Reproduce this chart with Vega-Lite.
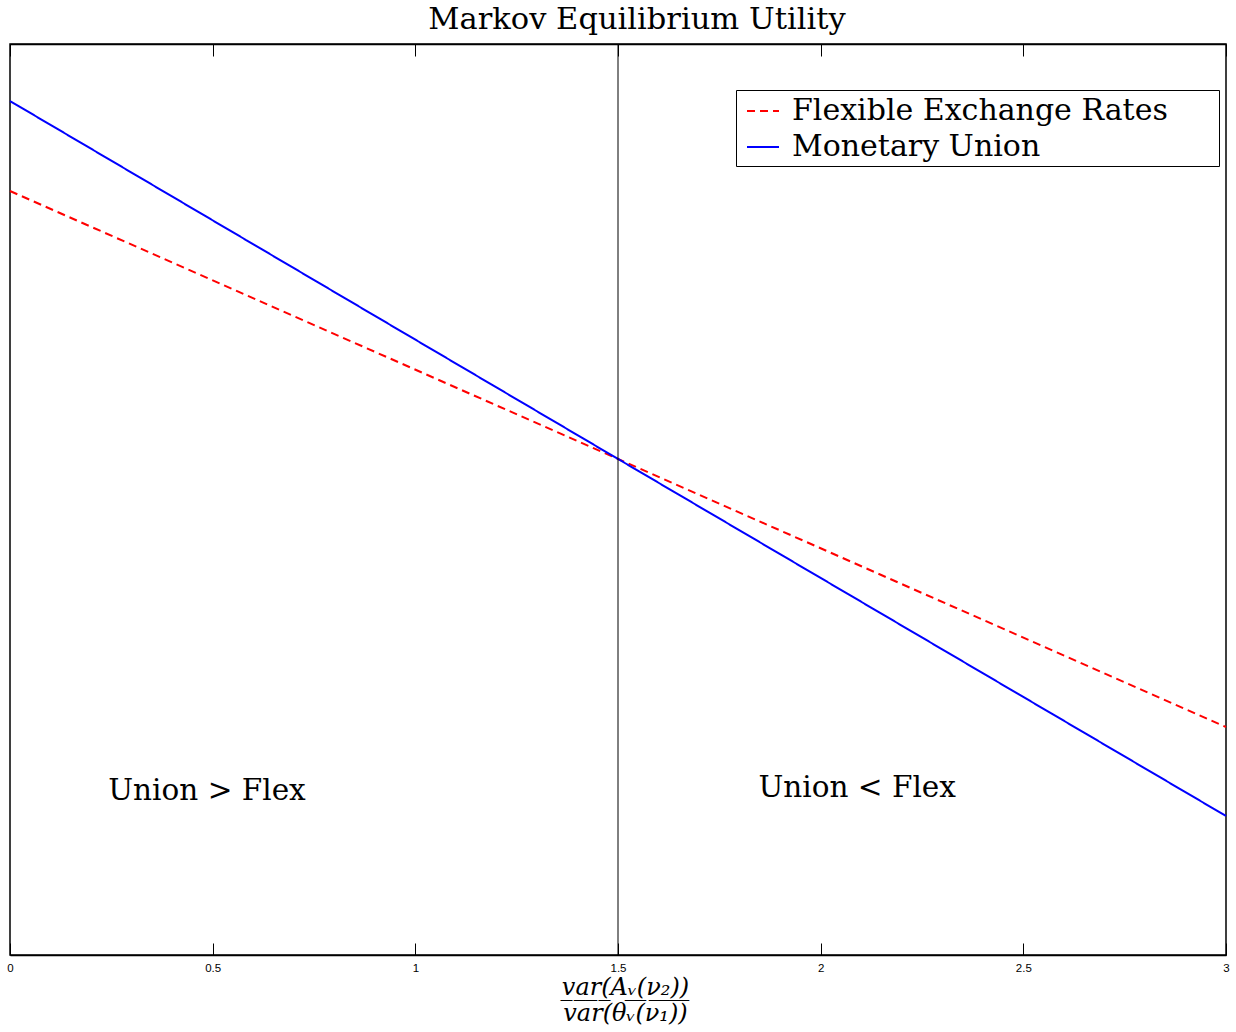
{
  "$schema": "https://vega.github.io/schema/vega-lite/v6.json",
  "width": 1216,
  "height": 911,
  "autosize": "none",
  "padding": {"left": 10, "top": 44, "right": 10, "bottom": 77},
  "title": {"text": "Markov Equilibrium Utility", "font": "DejaVu Serif", "fontSize": 30.5, "fontWeight": "normal", "color": "black", "offset": 8, "anchor": "middle", "dx": 19},
  "config": {
    "view": {"stroke": "black", "strokeWidth": 1.5},
    "axis": {"grid": false}
  },
  "datasets": {
    "lines": [
      {"x": 0, "y": 0.8386, "series": "Flexible Exchange Rates"},
      {"x": 1.5, "y": 0.5445, "series": "Flexible Exchange Rates"},
      {"x": 3, "y": 0.2503, "series": "Flexible Exchange Rates"},
      {"x": 0, "y": 0.9374, "series": "Monetary Union"},
      {"x": 1.5, "y": 0.5445, "series": "Monetary Union"},
      {"x": 3, "y": 0.1526, "series": "Monetary Union"}
    ],
    "labels": [
      {"x": 0.486, "y": 0.18, "text": "Union > Flex"},
      {"x": 2.09, "y": 0.183, "text": "Union < Flex"}
    ],
    "vline": [{"x": 1.5}]
  },
  "layer": [
    {
      "data": {"name": "lines"},
      "mark": {"type": "line", "strokeWidth": 2},
      "encoding": {
        "x": {"field": "x", "type": "quantitative", "scale": {"domain": [0, 3], "nice": false, "zero": false},
          "axis": {"orient": "bottom", "values": [0, 0.5, 1, 1.5, 2, 2.5, 3], "format": "~g", "tickSize": -12, "tickColor": "black", "tickWidth": 1, "domainColor": "black", "domainWidth": 1.5, "labelFont": "Liberation Sans", "labelFontSize": 11.5, "labelColor": "black", "labelPadding": 19, "labelFlush": false,
            "title": ["v̲a̲r̲(̲Aᵥ̲(̲ν̲₂̲)̲)̲", "var(θᵥ(ν₁))"], "titleFont": "DejaVu Serif", "titleFontStyle": "italic", "titleFontWeight": "normal", "titleFontSize": 24, "titleColor": "black", "titlePadding": 2, "titleLineHeight": 26, "titleX": 615}},
        "y": {"field": "y", "type": "quantitative", "scale": {"domain": [0, 1], "nice": false}, "axis": null},
        "color": {"field": "series", "type": "nominal", "scale": {"domain": ["Flexible Exchange Rates", "Monetary Union"], "range": ["#ff0000", "#0000ff"]},
          "legend": {"orient": "none", "legendX": 726, "legendY": 46, "title": null, "strokeColor": "black", "fillColor": "white", "padding": 4, "labelFont": "DejaVu Serif", "labelFontSize": 30, "labelColor": "black", "labelLimit": 700, "labelExpr": "datum.label + '\u2002\u2004\u2800'", "symbolType": "stroke", "symbolSize": 1024, "symbolStrokeWidth": 2, "symbolOffset": 6, "rowPadding": 4, "labelOffset": 12}},
        "strokeDash": {"field": "series", "type": "nominal", "scale": {"domain": ["Flexible Exchange Rates", "Monetary Union"], "range": [[8, 5], [1, 0]]},
          "legend": {"orient": "none", "legendX": 726, "legendY": 46, "title": null, "strokeColor": "black", "fillColor": "white", "padding": 4, "labelFont": "DejaVu Serif", "labelFontSize": 30, "labelColor": "black", "labelLimit": 700, "labelExpr": "datum.label + '\u2002\u2004\u2800'", "symbolType": "stroke", "symbolSize": 1024, "symbolStrokeWidth": 2, "symbolOffset": 6, "rowPadding": 4, "labelOffset": 12}}
      }
    },
    {
      "data": {"name": "labels"},
      "mark": {"type": "text", "font": "DejaVu Serif", "fontSize": 29.5, "color": "black", "align": "center", "baseline": "middle"},
      "encoding": {
        "x": {"field": "x", "type": "quantitative", "axis": null},
        "y": {"field": "y", "type": "quantitative"},
        "text": {"field": "text"}
      }
    },
    {
      "data": {"name": "vline"},
      "mark": {"type": "rule", "color": "black", "strokeWidth": 1},
      "encoding": {
        "x": {"field": "x", "type": "quantitative",
          "axis": {"orient": "top", "values": [0, 0.5, 1, 1.5, 2, 2.5, 3], "labels": false, "tickSize": -12, "tickColor": "black", "tickWidth": 1, "domainColor": "black", "domainWidth": 1.5, "title": null}}
      }
    }
  ],
  "resolve": {"axis": {"x": "independent"}}
}
